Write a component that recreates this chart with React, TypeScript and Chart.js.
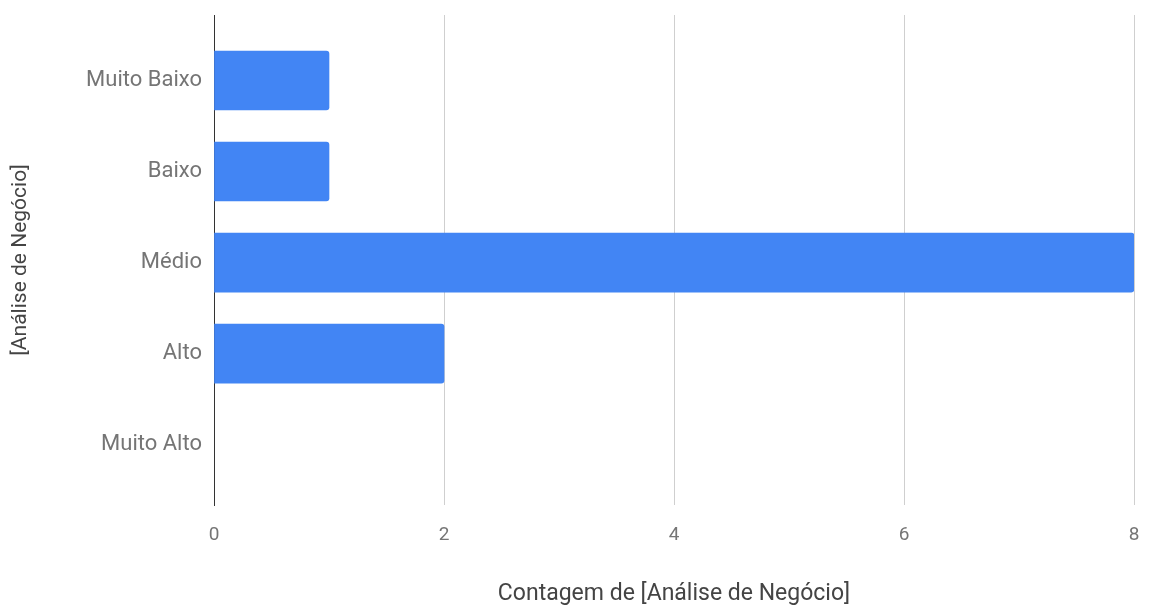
import React, { useEffect, useRef } from "react";
import { Chart, registerables } from "chart.js";

Chart.register(...registerables);

const categories = ["Muito Baixo", "Baixo", "Médio", "Alto", "Muito Alto"];
const counts = [1, 1, 8, 2, 0];
const xTicks = [0, 2, 4, 6, 8];
const xTitle = "Contagem de [Análise de Negócio]";
const yTitle = "[Análise de Negócio]";

export default function App() {
  const ref = useRef<HTMLCanvasElement | null>(null);

  useEffect(() => {
    if (!ref.current) return;
    const chart = new Chart(ref.current, {
      type: "bar",
      data: {
        datasets: [
          {
            label: xTitle,
            data: counts.map((v, i) => ({ x: v, y: i })),
            backgroundColor: (c: any) => (c.raw && c.raw.x === 0 ? "rgba(0,0,0,0)" : "#4285F4"),
            borderRadius: 3,
            borderSkipped: "start",
            barThickness: 59,
          },
        ],
      },
      options: {
        indexAxis: "y",
        animation: false,
        responsive: true,
        maintainAspectRatio: false,
        layout: { padding: { top: 15, right: 18, left: 0, bottom: 0 } },
        plugins: { legend: { display: false }, tooltip: { enabled: false } },
        scales: {
          x: {
            type: "linear",
            min: 0,
            max: 8,
            afterBuildTicks: (s: any) => {
              s.ticks = xTicks.map((v) => ({ value: v }));
            },
            afterFit: (s: any) => {
              s.height = 106;
              s.paddingLeft = 0;
              s.paddingRight = 0;
            },
            grid: {
              color: (c: any) => (c.tick && c.tick.value === 0 ? "rgba(0,0,0,0)" : "#cfcfcf"),
              drawTicks: false,
              lineWidth: 1,
            },
            border: { display: false },
            ticks: {
              padding: 19,
              color: "#757575",
              font: { family: "Roboto", size: 19 },
            },
            title: {
              display: true,
              text: xTitle,
              color: "#444444",
              font: { family: "Roboto", size: 23 },
              padding: { top: 0, bottom: 3 },
            },
          },
          y: {
            type: "linear",
            reverse: true,
            offset: false,
            min: -0.72,
            max: 4.664,
            afterBuildTicks: (s: any) => {
              s.ticks = categories.map((_, i) => ({ value: i }));
            },
            afterFit: (s: any) => {
              s.width = 214;
              s.paddingTop = 0;
              s.paddingBottom = 0;
            },
            grid: { display: false, drawTicks: false, offset: false },
            border: { display: true, color: "#333333", width: 1 },
            ticks: {
              padding: 12,
              color: "#757575",
              font: { family: "Roboto", size: 22 },
              callback: (v: any) => categories[Math.round(Number(v))] ?? "",
            },
            title: {
              display: true,
              text: yTitle,
              color: "#444444",
              font: { family: "Roboto", size: 21 },
              padding: { top: 8, bottom: 0 },
            },
          },
        },
      },
    });
    return () => chart.destroy();
  }, []);

  return (
    <div style={{ position: "fixed", left: 0, top: 0, width: 1152, height: 611, background: "#fff" }}>
      <canvas ref={ref} />
    </div>
  );
}
